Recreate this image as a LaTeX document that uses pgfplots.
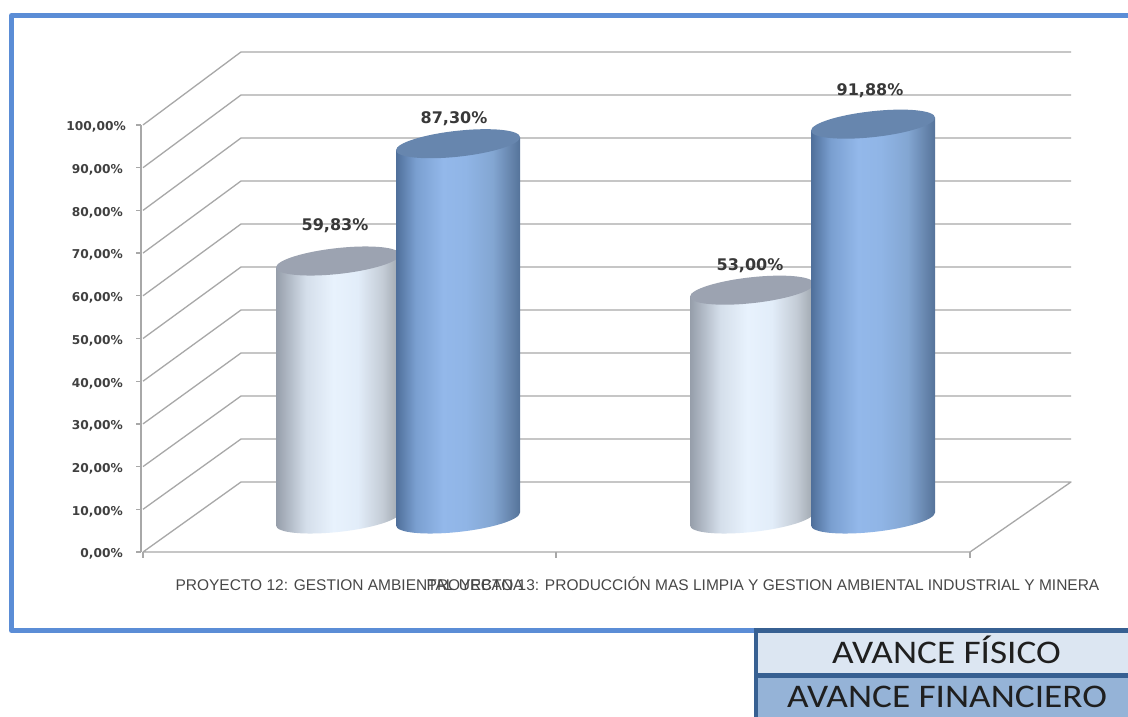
\documentclass[border=0pt]{standalone}
\usepackage{fontspec}
\usepackage{pgfplots}
\pgfplotsset{compat=1.18}
\setmainfont{Liberation Sans}
\newfontfamily\dv{DejaVu Sans}
\newfontfamily\carl{Carlito}
\definecolor{gl}{HTML}{A8A8A8}
\definecolor{fb}{HTML}{5B8DD6}
\definecolor{lb}{HTML}{376092}
\definecolor{capw}{HTML}{9CA3B1}
\definecolor{capb}{HTML}{6786AE}
\definecolor{lg1}{HTML}{DCE6F2}
\definecolor{lg2}{HTML}{95B3D7}
\definecolor{wa}{RGB}{150,158,170}
\definecolor{wb}{RGB}{212,222,234}
\definecolor{wc}{RGB}{232,242,253}
\definecolor{wd}{RGB}{226,237,249}
\definecolor{we}{RGB}{196,204,214}
\definecolor{wf}{RGB}{158,166,174}
\definecolor{ba}{RGB}{79,111,154}
\definecolor{bb}{RGB}{122,159,208}
\definecolor{bc}{RGB}{147,184,234}
\definecolor{bd}{RGB}{144,181,230}
\definecolor{be}{RGB}{131,166,210}
\definecolor{bf}{RGB}{103,134,174}
\definecolor{bg}{RGB}{85,115,154}
\pgfdeclarehorizontalshading{wcyl}{100bp}{
 color(0bp)=(wa);
 color(25bp)=(wa);
 color(37bp)=(wb);
 color(48bp)=(wc);
 color(58bp)=(wd);
 color(68bp)=(we);
 color(75bp)=(wf);
 color(100bp)=(wf)}
\pgfdeclarehorizontalshading{bcyl}{100bp}{
 color(0bp)=(ba);
 color(25bp)=(ba);
 color(33bp)=(bb);
 color(44bp)=(bc);
 color(53bp)=(bd);
 color(64bp)=(be);
 color(71bp)=(bf);
 color(75bp)=(bg);
 color(100bp)=(bg)}
\newcommand{\capellipse}{\pgfpathellipse{\pgfpointorigin}{\pgfqpoint{62pt}{6.5pt}}{\pgfqpoint{0pt}{13pt}}}
\pgfdeclareplotmark{capW}{\capellipse\pgfsetfillcolor{capw}\pgfusepathqfill}
\pgfdeclareplotmark{capB}{\capellipse\pgfsetfillcolor{capb}\pgfusepathqfill}
\pgfdeclareplotmark{baseW}{\capellipse\pgfshadepath{wcyl}{0}\pgfusepath{discard}}
\pgfdeclareplotmark{baseB}{\capellipse\pgfshadepath{bcyl}{0}\pgfusepath{discard}}
\pgfplotsset{
 wall/.style={gl,line width=1.3pt,no markers,line join=round},
 bodyW/.style={no markers,yshift=35.5pt,draw=none,forget plot,shading=wcyl,shading angle=0},
 bodyB/.style={no markers,yshift=35.5pt,draw=none,forget plot,shading=bcyl,shading angle=0},
 mk/.style={only marks,forget plot}
}
\newcommand{\vlab}[2]{\node[text=black!78,inner sep=0pt] at (axis cs:#1) {\dv\bfseries\fontsize{16}{18}\selectfont #2};}
\newcommand{\ylab}[2]{\node[anchor=east,text=black!75,inner sep=0pt,yshift=-2.2pt] at (axis cs:#1) {\dv\bfseries\fontsize{12.2}{14}\selectfont #2};}
\begin{document}
\begin{tikzpicture}[x=1pt,y=1pt]
\path[use as bounding box] (0,0) rectangle (1128,717);
\fill[white] (0,0) rectangle (1128,717);
\draw[fb,line width=5pt,line join=round] (1128,701.5) -- (11.5,701.5) -- (11.5,86.5) -- (1128,86.5);
\begin{axis}[at={(0pt,0pt)},anchor=south west,scale only axis,width=1128pt,height=717pt,
 xmin=0,xmax=1128,ymin=-38.64,ymax=129.27,axis lines=none,clip=true,clip mode=individual,clip marker paths=true]
% walls: front value, back height
\addplot[wall] coordinates {(143,0)(241,16.39)(1071,16.39)(970,0)(143,0)};
\addplot[wall] coordinates {(143,10)(241,26.46)(1071,26.46)};
\addplot[wall] coordinates {(143,20)(241,36.53)(1071,36.53)};
\addplot[wall] coordinates {(143,30)(241,46.60)(1071,46.60)};
\addplot[wall] coordinates {(143,40)(241,56.67)(1071,56.67)};
\addplot[wall] coordinates {(143,50)(241,66.74)(1071,66.74)};
\addplot[wall] coordinates {(143,60)(241,76.81)(1071,76.81)};
\addplot[wall] coordinates {(143,70)(241,86.88)(1071,86.88)};
\addplot[wall] coordinates {(143,80)(241,96.95)(1071,96.95)};
\addplot[wall] coordinates {(143,90)(241,107.02)(1071,107.02)};
\addplot[wall] coordinates {(143,100)(241,117.10)(1071,117.10)};
% axis lines and ticks
\addplot[wall] coordinates {(141,0)(141,100)};
\addplot[wall] coordinates {(136,0)(141,0)};
\addplot[wall] coordinates {(136,10)(141,10)};
\addplot[wall] coordinates {(136,20)(141,20)};
\addplot[wall] coordinates {(136,30)(141,30)};
\addplot[wall] coordinates {(136,40)(141,40)};
\addplot[wall] coordinates {(136,50)(141,50)};
\addplot[wall] coordinates {(136,60)(141,60)};
\addplot[wall] coordinates {(136,70)(141,70)};
\addplot[wall] coordinates {(136,80)(141,80)};
\addplot[wall] coordinates {(136,90)(141,90)};
\addplot[wall] coordinates {(136,100)(141,100)};
\addplot[wall] coordinates {(143,0)(143,-1.4)};
\addplot[wall] coordinates {(556,0)(556,-1.4)};
\addplot[wall] coordinates {(970,0)(970,-1.4)};
% cylinders, project 12 (top edge runs value-1.52 to value+1.52 across the tilted cap)
\addplot[mk,mark=baseW] coordinates {(338,7.73)};
\addplot[bodyW] coordinates {(276,-2.10)(276,58.31)(400,61.35)(400,0.94)};
\addplot[mk,mark=capW,yshift=35.5pt] coordinates {(338,59.83)};
\addplot[mk,mark=baseB] coordinates {(458,7.73)};
\addplot[bodyB] coordinates {(396,-2.10)(396,85.78)(520,88.82)(520,0.94)};
\addplot[mk,mark=capB,yshift=35.5pt] coordinates {(458,87.30)};
% cylinders, project 13
\addplot[mk,mark=baseW] coordinates {(752,7.73)};
\addplot[bodyW] coordinates {(690,-2.10)(690,51.48)(814,54.52)(814,0.94)};
\addplot[mk,mark=capW,yshift=35.5pt] coordinates {(752,53.00)};
\addplot[mk,mark=baseB] coordinates {(873,7.73)};
\addplot[bodyB] coordinates {(811,-2.10)(811,90.36)(935,93.40)(935,0.94)};
\addplot[mk,mark=capB,yshift=35.5pt] coordinates {(873,91.88)};
% value labels
\vlab{335,76.35}{59,83\%}
\vlab{454,101.4}{87,30\%}
\vlab{750,66.98}{53,00\%}
\vlab{870,107.96}{91,88\%}
% y labels
\ylab{126,100}{100,00\%}
\ylab{123,90}{90,00\%}
\ylab{123,80}{80,00\%}
\ylab{123,70}{70,00\%}
\ylab{123,60}{60,00\%}
\ylab{123,50}{50,00\%}
\ylab{123,40}{40,00\%}
\ylab{123,30}{30,00\%}
\ylab{123,20}{20,00\%}
\ylab{123,10}{10,00\%}
\ylab{123,0}{0,00\%}
% category labels
\node[text=black!72,inner sep=0pt,anchor=base] at (axis cs:349.5,-8.9) {\fontsize{15.5}{17}\selectfont PROYECTO 12: GESTION AMBIENTAL URBANA};
\node[text=black!72,inner sep=0pt,anchor=base] at (axis cs:763,-8.9) {\fontsize{15.5}{17}\selectfont PROYECTO 13: PRODUCCIÓN MAS LIMPIA Y GESTION AMBIENTAL INDUSTRIAL Y MINERA};
\end{axis}
% legend table
\fill[lb] (754,0) rectangle (1128,89);
\fill[lg1] (758,44) rectangle (1128,84);
\fill[lg2] (758,0) rectangle (1128,39);
\node[inner sep=0pt,anchor=base,text=black!88] at (946.5,53) {\carl\fontsize{33}{36}\selectfont\scalebox{1.13}[1]{AVANCE FÍSICO}};
\node[inner sep=0pt,anchor=base,text=black!88] at (947,9) {\carl\fontsize{33}{36}\selectfont\scalebox{1.13}[1]{AVANCE FINANCIERO}};
\end{tikzpicture}
\end{document}
